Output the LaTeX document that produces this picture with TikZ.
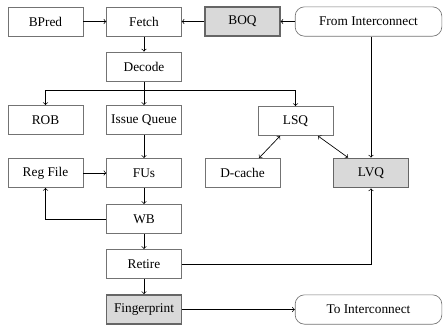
\documentclass[tikz,border=0pt]{standalone}
\usepackage{fontspec}
\setmainfont{Liberation Serif}
\usepackage{tikz}
\usetikzlibrary{arrows,positioning,calc,arrows.meta}
\tikzset{>=to}
\tikzset{stage/.style={draw=black!55,fill=white,minimum width=56pt,minimum height=22pt,inner sep=1pt,font=\fontsize{10}{12}\selectfont}}
\tikzset{added/.style={stage,draw=black!60,line width=1.1pt,fill=black!15}}
\tikzset{link/.style={draw=black!55,rounded corners=7pt,minimum width=110pt,minimum height=22pt,inner sep=1pt,font=\fontsize{10}{12}\selectfont}}

\begin{document}
\begin{tikzpicture}[x=0.75pt,y=-0.75pt,line width=0.5pt]
  \useasboundingbox (0,0) rectangle (443,326);

  %% front end
  \node[stage] (bpred) at (45.5,21.5) {BPred};
  \node[stage] (fetch) at (144,21.5) {Fetch};
  \node[added] (boq) at (242.5,21.5) {BOQ};
  \node[link] (fromic) at (368.5,21.5) {From Interconnect};
  \node[stage] (decode) at (144,66.5) {Decode};

  %% back end
  \node[stage] (rob) at (45.5,120) {ROB};
  \node[stage] (iq) at (144,120) {Issue Queue};
  \node[stage] (lsq) at (295.5,121) {LSQ};
  \node[stage] (regfile) at (45.5,173) {Reg File};
  \node[stage] (fus) at (144,173) {FUs};
  \node[stage] (dcache) at (242.5,173) {D-cache};
  \node[added] (lvq) at (371,173) {LVQ};
  \node[stage] (wb) at (144,219) {WB};
  \node[stage] (retire) at (144,264) {Retire};
  \node[added] (fp) at (144,309.5) {Fingerprint};
  \node[link] (toic) at (368.5,309.5) {To Interconnect};

  \coordinate (split) at (144,90);

  \draw[->] (bpred) -- (fetch);
  \draw[->] (boq) -- (fetch);
  \draw[->] (fromic) -- (boq);
  \draw[->] (fetch) -- (decode);
  \draw (decode) -- (split);
  \draw[->] (split) -| (rob.north);
  \draw[->] (split) -- (iq.north);
  \draw[->] (split) -| (lsq.north);
  \draw[->] (iq) -- (fus);
  \draw[->] (regfile) -- (fus);
  \draw[->] (fus) -- (wb);
  \draw[->] (wb.west) -| (regfile.south);
  \draw[->] (wb) -- (retire);
  \draw[->] (retire) -- (fp);
  \draw[->] (fp) -- (toic);

  %% load value path
  \draw[<->] ([xshift=-11.6pt]lsq.south) -- ([xshift=12.4pt]dcache.north);
  \draw[<->] ([xshift=16.9pt]lsq.south) -- ([xshift=-17.2pt]lvq.north);
  \draw[->] (fromic.south -| lvq.north) -- (lvq.north);
  \draw[->] (retire.east) -| (lvq.south);
\end{tikzpicture}
\end{document}
